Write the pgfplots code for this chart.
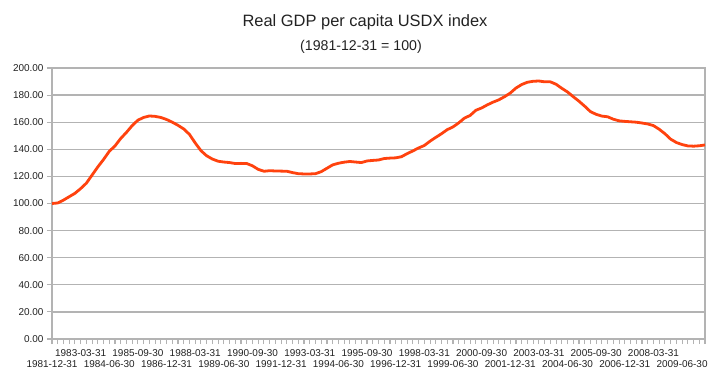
\documentclass[border=0pt]{standalone}
\usepackage{pgfplots}
\pgfplotsset{compat=1.18}
\usepackage{fontspec}
\setmainfont{Liberation Sans}
\definecolor{gridgray}{HTML}{B3B3B3}
\definecolor{lineorange}{HTML}{FF420E}
\definecolor{txt}{HTML}{222222}
\newcommand{\up}[1]{\strut #1}
\newcommand{\dn}[1]{\strut\\\strut #1}
\pgfplotstableread{
i v
0 100.0
1 100.4
2 102.5
3 105.0
4 107.5
5 111.0
6 115.0
7 121.0
8 127.0
9 132.5
10 138.5
11 142.5
12 148.0
13 152.5
14 157.5
15 161.5
16 163.5
17 164.6
18 164.3
19 163.5
20 162.0
21 160.0
22 157.7
23 155.0
24 151.0
25 144.7
26 139.0
27 135.2
28 132.8
29 131.2
30 130.6
31 130.2
32 129.5
33 129.6
34 129.5
35 127.8
36 125.2
37 123.8
38 124.2
39 124.0
40 123.9
41 123.8
42 122.8
43 122.0
44 121.8
45 121.8
46 122.0
47 123.5
48 126.0
49 128.5
50 129.7
51 130.5
52 131.0
53 130.6
54 130.2
55 131.4
56 131.8
57 132.1
58 133.2
59 133.5
60 133.7
61 134.5
62 136.8
63 138.8
64 141.0
65 142.8
66 146.0
67 148.8
68 151.5
69 154.5
70 156.5
71 159.5
72 163.0
73 165.0
74 168.8
75 170.5
76 172.8
77 174.8
78 176.5
79 178.8
80 181.5
81 185.2
82 187.8
83 189.5
84 190.2
85 190.4
86 189.8
87 189.8
88 188.0
89 185.0
90 182.3
91 178.8
92 175.5
93 171.8
94 167.8
95 165.8
96 164.5
97 164.0
98 162.2
99 161.0
100 160.6
101 160.3
102 160.0
103 159.4
104 158.7
105 157.5
106 154.8
107 151.5
108 147.5
109 145.0
110 143.5
111 142.5
112 142.3
113 142.6
114 143.2
}\gdpdata
\begin{document}
\begin{tikzpicture}
\path[use as bounding box] (-52bp,-38bp) rectangle (666bp,339bp);
\begin{axis}[
  at={(0,0)}, anchor=south west,
  scale only axis, width=653bp, height=271bp,
  xmin=0, xmax=114, ymin=0, ymax=200,
  ytick={0,20,...,200},
  xtick={0,5,...,110},
  minor xtick={0,1,...,114},
  xticklabels={{\dn{1981-12-31}},{\up{1983-03-31}},{\dn{1984-06-30}},{\up{1985-09-30}},{\dn{1986-12-31}},{\up{1988-03-31}},{\dn{1989-06-30}},{\up{1990-09-30}},{\dn{1991-12-31}},{\up{1993-03-31}},{\dn{1994-06-30}},{\up{1995-09-30}},{\dn{1996-12-31}},{\up{1998-03-31}},{\dn{1999-06-30}},{\up{2000-09-30}},{\dn{2001-12-31}},{\up{2003-03-31}},{\dn{2004-06-30}},{\up{2005-09-30}},{\dn{2006-12-31}},{\up{2008-03-31}},{\dn{2009-06-30}}},
  xticklabel style={font=\fontsize{10}{11}\selectfont, align=center, anchor=north, text=txt, inner sep=0bp, yshift=-5bp},
  yticklabel style={font=\fontsize{10}{12}\selectfont, text=txt},
  /pgf/number format/.cd, fixed, fixed zerofill, precision=2, assume math mode=true,
  /pgfplots/.cd,
  tick align=outside,
  xtick pos=bottom, ytick pos=left,
  major tick length=5bp, minor tick length=5bp,
  tick style={draw=gridgray, line width=1.1bp},
  minor tick style={draw=gridgray, line width=1.1bp},
  ymajorgrids,
  grid style={draw=gridgray, line width=1.3bp},
  axis line style={draw=gridgray, line width=1.3bp},
]
\addplot[lineorange, line width=2.8bp, line join=round, no marks] table[x=i, y=v] {\gdpdata};
\end{axis}
\node[font=\fontsize{16.5}{19}\selectfont, text=txt] at (313bp,317bp) {Real GDP per capita USDX index};
\node[font=\fontsize{14.2}{17}\selectfont, text=txt] at (309bp,292bp) {(1981-12-31 = 100)};
\end{tikzpicture}
\end{document}
